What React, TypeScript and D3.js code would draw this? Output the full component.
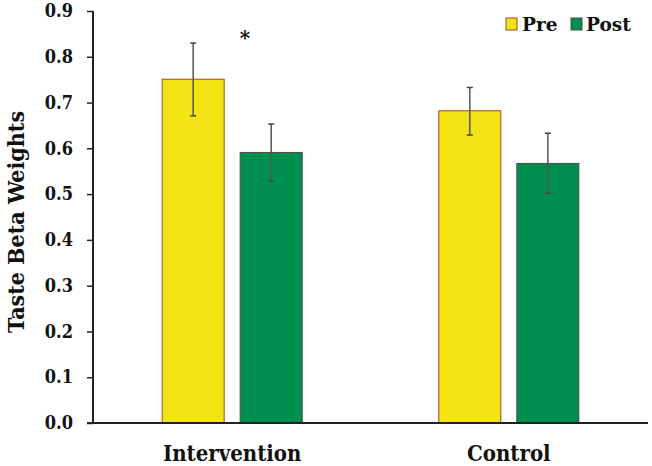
import * as d3 from "d3";
import { useEffect, useRef } from "react";

const groups = ["Intervention", "Control"];
const phases = ["Pre", "Post"];
const means = [
  [0.751, 0.591],
  [0.682, 0.567],
];
const errLow = [
  [0.671, 0.528],
  [0.629, 0.502],
];
const errHigh = [
  [0.83, 0.653],
  [0.733, 0.633],
];
const yTicks = [0, 0.1, 0.2, 0.3, 0.4, 0.5, 0.6, 0.7, 0.8, 0.9];
const colors = ["#f2e415", "#008f4f"];
const strokes = ["#a4452a", "#4a4a4a"];

const W = 652;
const H = 466;
const FONT = "'DejaVu Serif', serif";

function App() {
  const ref = useRef<SVGSVGElement>(null);

  useEffect(() => {
    const svg = d3.select(ref.current);
    svg.selectAll("*").remove();

    const left = 93;
    const right = 648;
    const top = 11;
    const bottom = 423;

    const y = d3.scaleLinear().domain([0, 0.9]).range([bottom, top]);
    const x0 = d3
      .scaleBand<string>()
      .domain(groups)
      .range([left, right])
      .paddingInner(0.4937)
      .paddingOuter(0.25);
    const x1 = d3
      .scaleBand<string>()
      .domain(phases)
      .range([0, x0.bandwidth()])
      .paddingInner(0.205);

    const g = svg.append("g");

    // bars
    groups.forEach((grp, gi) => {
      phases.forEach((ph, pi) => {
        const bx = (x0(grp) ?? 0) + (x1(ph) ?? 0);
        g.append("rect")
          .attr("x", bx)
          .attr("y", y(means[gi][pi]))
          .attr("width", x1.bandwidth())
          .attr("height", y(0) - y(means[gi][pi]))
          .attr("fill", colors[pi])
          .attr("stroke", strokes[pi])
          .attr("stroke-width", 1);

        const cx = bx + x1.bandwidth() / 2;
        g.append("line")
          .attr("x1", cx)
          .attr("x2", cx)
          .attr("y1", y(errLow[gi][pi]))
          .attr("y2", y(errHigh[gi][pi]))
          .attr("stroke", "#555")
          .attr("stroke-width", 1.5);
        [errLow[gi][pi], errHigh[gi][pi]].forEach((v) => {
          g.append("line")
            .attr("x1", cx - 3)
            .attr("x2", cx + 3)
            .attr("y1", y(v))
            .attr("y2", y(v))
            .attr("stroke", "#444")
            .attr("stroke-width", 1.5);
        });
      });
    });

    // axes
    const yAxis = d3
      .axisLeft(y)
      .tickValues(yTicks)
      .tickFormat(d3.format(".1f"))
      .tickSize(6)
      .tickPadding(14);
    const ya = g
      .append("g")
      .attr("transform", `translate(${left},0)`)
      .call(yAxis);
    ya.select(".domain").attr("stroke", "#222").attr("stroke-width", 2).attr("d", `M0,${top}V${bottom}`);
    ya.selectAll(".tick line").attr("stroke", "#222").attr("stroke-width", 1.5);
    ya.selectAll(".tick text")
      .attr("font-family", FONT)
      .attr("font-weight", "bold")
      .attr("font-size", 18)
      .attr("font-stretch", "semi-condensed")
      .attr("fill", "#111");

    g.append("line")
      .attr("x1", left - 6)
      .attr("x2", right)
      .attr("y1", bottom)
      .attr("y2", bottom)
      .attr("stroke", "#222")
      .attr("stroke-width", 2);

    // group labels
    groups.forEach((grp) => {
      g.append("text")
        .attr("x", (x0(grp) ?? 0) + x0.bandwidth() / 2)
        .attr("y", 461)
        .attr("text-anchor", "middle")
        .attr("font-family", FONT)
        .attr("font-weight", "bold")
        .attr("font-size", 22)
        .attr("font-stretch", "condensed")
        .attr("fill", "#111")
        .text(grp);
    });

    // y title
    g.append("text")
      .attr("transform", `translate(24,222) rotate(-90)`)
      .attr("text-anchor", "middle")
      .attr("font-family", FONT)
      .attr("font-weight", "bold")
      .attr("font-size", 23)
      .attr("font-stretch", "condensed")
      .attr("fill", "#111")
      .text("Taste Beta Weights");

    // significance marker
    g.append("text")
      .attr("x", 245)
      .attr("y", 45)
      .attr("text-anchor", "middle")
      .attr("font-family", FONT)
      .attr("font-weight", "bold")
      .attr("font-size", 20)
      .attr("fill", "#111")
      .text("*");

    // legend
    const legendX = [506, 571];
    phases.forEach((ph, pi) => {
      const lg = g.append("g").attr("transform", `translate(${legendX[pi]},18)`);
      lg.append("rect")
        .attr("width", 11)
        .attr("height", 12)
        .attr("fill", colors[pi])
        .attr("stroke", strokes[pi])
        .attr("stroke-width", 1);
      lg.append("text")
        .attr("x", pi === 0 ? 16 : 15)
        .attr("y", 12.5)
        .attr("font-family", FONT)
        .attr("font-weight", "bold")
        .attr("font-size", 18.5)
        .attr("fill", "#111")
        .text(ph);
    });
  });

  return (
    <svg
      ref={ref}
      width={W}
      height={H}
      style={{ position: "absolute", left: 0, top: 0, background: "#fff" }}
    />
  );
}

export default App;
